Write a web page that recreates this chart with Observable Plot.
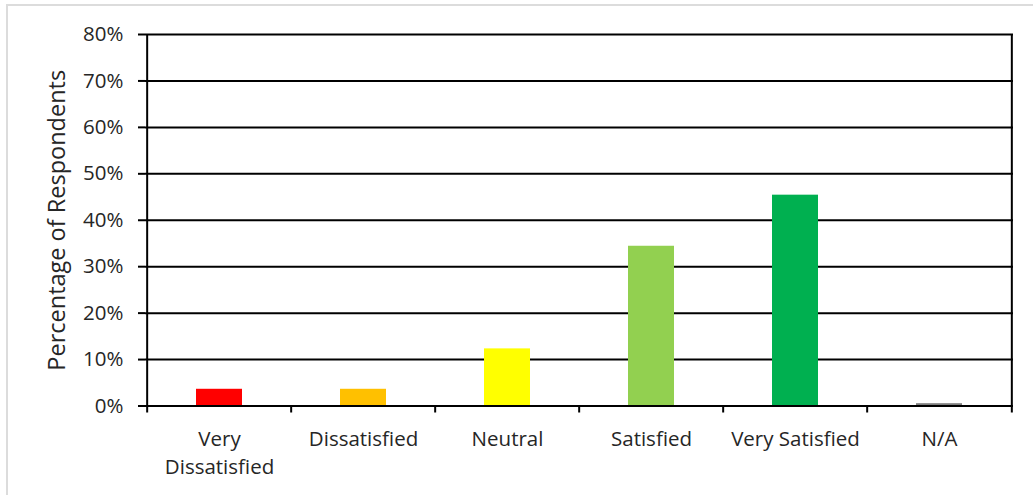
<!DOCTYPE html>
<html>
<head>
<meta charset="utf-8">
<script src="https://cdn.jsdelivr.net/npm/d3@7"></script>
<script src="https://cdn.jsdelivr.net/npm/@observablehq/plot@0.6"></script>
<style>
  body { margin: 0; background: #fff; }
  #chart { position: relative; width: 1033px; height: 495px; overflow: hidden; }
  #chart::before {
    content: ""; position: absolute; left: 6px; top: 4px; right: -10px; bottom: -10px;
    border-left: 2px solid #dcdcdc; border-top: 2px solid #dcdcdc; pointer-events: none;
  }
  #chart svg { position: absolute; left: 0; top: 0; }
</style>
</head>
<body>
<div id="chart"></div>
<script>
// Survey responses: share of respondents per satisfaction level
const categories = ["Very Dissatisfied", "Dissatisfied", "Neutral", "Satisfied", "Very Satisfied", "N/A"];
const tickLabels = ["Very\nDissatisfied", "Dissatisfied", "Neutral", "Satisfied", "Very Satisfied", "N/A"];
const percentages = [3.6, 3.6, 12.3, 34.4, 45.4, 0.5];
const barColors = ["#ff0000", "#ffc000", "#ffff00", "#92d050", "#00b050", "#7f7f7f"];
const yTicks = [0, 10, 20, 30, 40, 50, 60, 70, 80];

const rows = categories.map((c, i) => ({category: c, value: percentages[i], color: barColors[i]}));
const labelOf = new Map(categories.map((c, i) => [c, tickLabels[i]]));

const W = 1033, H = 495;
const mLeft = 145, mRight = 20, mTop = 34, mBottom = 89.5;
const step = (W - mLeft - mRight) / categories.length; // width of one category slot

const chart = Plot.plot({
  width: W,
  height: H,
  marginLeft: mLeft,
  marginRight: mRight,
  marginTop: mTop,
  marginBottom: mBottom,
  style: {fontFamily: "'Open Sans', sans-serif", fontSize: "20.5px", color: "#262626", background: "transparent"},
  x: {domain: categories, paddingInner: 0.68, paddingOuter: 0.34, axis: null},
  y: {domain: [0, 80], axis: null},
  color: {type: "identity"},
  marks: [
    // horizontal gridlines
    Plot.ruleY(yTicks.filter(d => d > 0), {stroke: "#000", strokeWidth: 2}),
    Plot.barY(rows, {x: "category", y: "value", fill: "color"}),
    // baseline
    Plot.ruleY([0], {stroke: "#000", strokeWidth: 2}),
    // left axis line and right frame line, both dropping below the baseline
    Plot.ruleX([categories[0]], {x: d => d, dx: -step / 2, stroke: "#000", strokeWidth: 2, insetBottom: -7}),
    Plot.ruleX([categories[categories.length - 1]], {x: d => d, dx: step / 2, stroke: "#000", strokeWidth: 2, insetBottom: -7}),
    // category boundary ticks
    Plot.ruleX(categories.slice(1), {x: d => d, dx: -step / 2, y1: 0, y2: 0, stroke: "#000", strokeWidth: 2, insetBottom: -7}),
    Plot.axisY({ticks: yTicks, tickFormat: d => d + "%", tickSize: 7, tickPadding: 15, stroke: "#000", strokeWidth: 2, fill: "#262626", label: null}),
    Plot.axisX({tickSize: 0, tickPadding: 21, tickFormat: d => labelOf.get(d), lineHeight: 1.33, fill: "#262626", label: null}),
    Plot.text(["Percentage of Respondents"], {frameAnchor: "left", textAnchor: "middle", dx: -88, rotate: -90, fontSize: 23.5, fill: "#262626"})
  ]
});

document.getElementById("chart").appendChild(chart);
</script>
</body>
</html>
